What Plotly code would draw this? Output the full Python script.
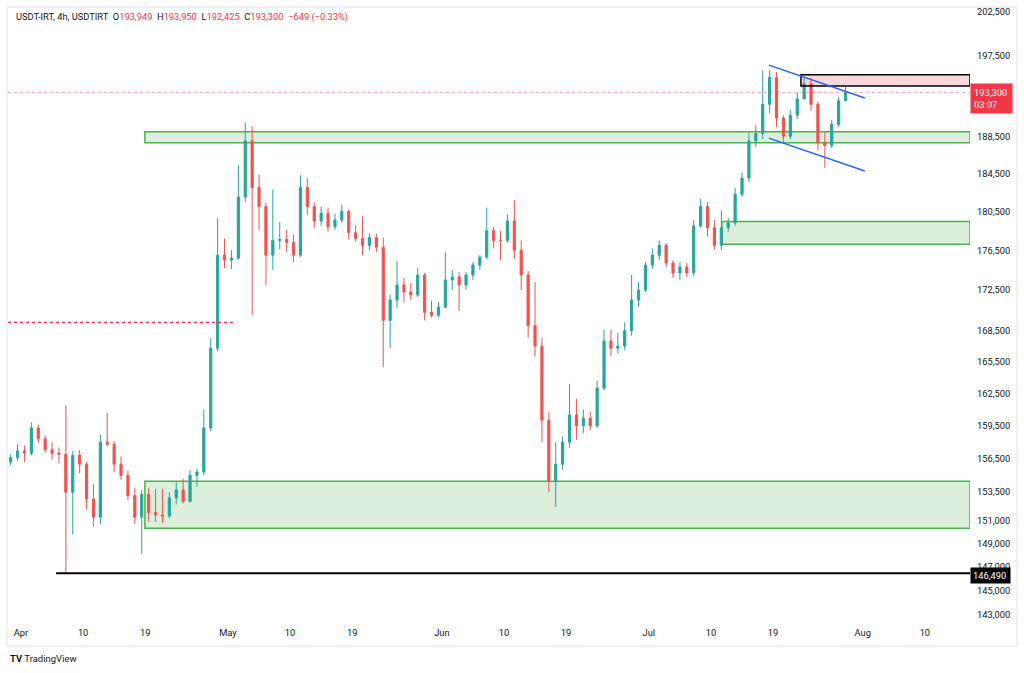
import math
import pandas as pd
import plotly.graph_objects as go

# ---------------- data (daily OHLC) ----------------
open_ = [156200, 156600,
         157200, 157000, 159300, 158300, 157300, 157000, 156900, 153500, 156800, 156000,
         152900, 151300, 158000, 157800, 156000, 155000, 153200, 151300, 153300, 151700,
         151500, 151400, 153000, 153700, 152700, 155000, 155300, 159300, 166800, 176000,
         175500, 175700, 182000, 188000, 183000, 181000, 176000, 177500, 177600, 177300,
         176000, 183000, 181000, 179500, 180300, 178900, 179600, 180500, 178300, 177700,
         177000, 177800, 176800, 169500, 171500, 173000, 172300, 172000, 174000, 170300, 170000,
         170800, 173500, 173800, 173000, 174000, 175000, 175800, 178500, 177500, 177500,
         179500, 176500, 174000, 169000, 167000, 160000, 154500, 156000, 158000, 160500,
         159500, 160200, 159500, 163000, 167500, 166800, 167000, 168500, 171500, 172500,
         175000, 176000, 177000, 175200, 174200, 174800, 174200, 179000, 181000, 178800,
         177000, 178800, 179300, 182300, 184000, 188000, 188800, 192000, 195000, 190500,
         188500, 190800, 192600, 194300, 192000, 187800, 187500, 189800, 192400]
high = [156900, 157800,
        157700, 159800, 159600, 158600, 158000, 157500, 161400, 157200, 157300, 156200,
        154200, 158700, 160700, 158100, 156700, 155400, 153900, 153700, 153900, 153800,
        153800, 153500, 154400, 154700, 155500, 155600, 161000, 167800, 179800, 177700,
        176500, 185400, 190000, 189600, 184400, 181400, 182800, 179400, 178600, 178100,
        184300, 184000, 181400, 181000, 180900, 180300, 181200, 180700, 179100, 180000,
        178200, 178200, 177800, 172000, 175400, 173700, 173200, 174700, 174200, 171400, 171300,
        176300, 174500, 174300, 174300, 175300, 176000, 180900, 178900, 178500, 180200,
        181700, 177500, 174400, 173300, 167800, 160800, 158000, 158500, 163400, 162000,
        161000, 160800, 163700, 168600, 168600, 168300, 169300, 174000, 173300, 175300,
        176700, 177500, 177200, 175500, 175300, 175200, 179600, 181800, 181500, 179600,
        180600, 179800, 183000, 184600, 188900, 189700, 195800, 195800, 195600, 190800,
        191400, 193300, 195000, 195000, 192300, 189100, 190300, 192800, 193950]
low = [155900, 156300,
       156200, 156800, 157900, 157000, 156400, 156100, 146490, 149800, 155200, 152000,
       150500, 150700, 157600, 155300, 154600, 152800, 150700, 148100, 150900, 150900,
       150800, 151200, 152400, 152500, 152600, 154000, 155000, 159000, 166500, 174700,
       174600, 175500, 181500, 170000, 178500, 173000, 174500, 176600, 176300, 175300,
       175800, 180100, 178800, 179000, 178400, 178600, 179300, 177600, 177400, 176000,
       176500, 176300, 165000, 166800, 170700, 171300, 171500, 171800, 169500, 169800, 169800,
       170700, 172500, 170400, 172500, 173500, 174500, 175600, 176700, 175500, 177300,
       175600, 172500, 167800, 166000, 158000, 153500, 152200, 155500, 157500, 158200,
       158800, 159100, 159300, 162800, 166000, 166300, 166600, 168000, 170800, 172300,
       174600, 175500, 174800, 173700, 173500, 173800, 173900, 178800, 177900, 176600,
       176500, 178400, 179000, 182000, 183600, 187300, 188200, 191000, 189500, 187800,
       188200, 190400, 192600, 191300, 187000, 185100, 187200, 189500, 192400]
close = [156600, 157200,
         157000, 159300, 158300, 157300, 157000, 156900, 153500, 156800, 156000, 152900,
         151300, 158000, 157800, 156000, 155000, 153200, 151300, 153300, 151700, 151500,
         151400, 153000, 153700, 152700, 155000, 155300, 159300, 166800, 176000, 175500,
         175700, 182000, 188000, 183000, 181000, 176000, 177500, 177600, 177300, 176000,
         183000, 181000, 179500, 180300, 178900, 179600, 180500, 178300, 177700, 177000,
         177800, 176800, 169500, 171500, 173000, 172300, 172000, 174000, 170300, 170000, 170800,
         173500, 173800, 173000, 174000, 175000, 175800, 178500, 177500, 177500, 179500,
         176500, 174000, 169000, 167000, 160000, 154500, 156000, 158000, 160500, 159500,
         160200, 159500, 163000, 167500, 166800, 167000, 168500, 171500, 172500, 175000,
         176000, 177000, 175200, 174200, 174800, 174200, 179000, 181000, 178800, 177000,
         178800, 179300, 182300, 184000, 188000, 188800, 192000, 195000, 190500, 188500,
         190800, 192600, 194300, 192000, 187800, 187500, 189800, 192400, 193300]
dates = pd.date_range("2025-03-30 12:00", periods=len(close), freq="D")

y_tick_values = [143000, 145000, 147000, 149000, 151000, 153500, 156500, 159500,
                 162500, 165500, 168500, 172500, 176500, 180500, 184500, 188500,
                 192500, 197500, 202500]
x_tick_dates = ["2025-04-01", "2025-04-10", "2025-04-19", "2025-05-01", "2025-05-10",
                "2025-05-19", "2025-06-01", "2025-06-10", "2025-06-19", "2025-07-01",
                "2025-07-10", "2025-07-19", "2025-08-01", "2025-08-10"]
x_tick_text = ["Apr", "10", "19", "May", "10", "19", "Jun", "10", "19", "Jul",
               "10", "19", "Aug", "10"]

# drawn levels / zones (start date, bottom price, top price)
green_zones = [("2025-04-18 23:00", 150330, 154470),
               ("2025-04-18 23:00", 187800, 189000),
               ("2025-07-11 14:00", 177100, 179450)]
red_zone = ("2025-07-23 01:00", 194050, 195300)
swing_low_level = 146490
swing_low_start = "2025-04-06 02:00"
old_level = 169300
old_level_end = "2025-05-02 00:00"
channel_upper = [("2025-07-18 09:40", 196400), ("2025-08-01 07:00", 192700)]
channel_lower = [("2025-07-18 09:40", 188300), ("2025-08-01 07:00", 184760)]
last_price = 193300
last_bar = {"O": "193,949", "H": "193,950", "L": "192,425", "C": "193,300",
            "chg": "\u2212649 (\u22120.33%)"}

# ---------------- layout geometry ----------------
W, H = 1024, 673
PL, PR, PT, PB = 8, 970, 7, 622
X_START, X_END = "2025-03-30 02:47", "2025-08-16 13:00"
Y_LO, Y_HI = 142424, 203096

def pxx(xp):
    return (xp - PL) / (PR - PL)

def pyy(yp):
    return (PB - yp) / (PB - PT)

DARK = "#131722"
RED = "#f23645"
FONT = "Roboto"
FS = 9.3

fig = go.Figure()
fig.add_trace(go.Candlestick(
    x=dates, open=open_, high=high, low=low, close=close,
    increasing=dict(line=dict(color="#26a69a", width=1), fillcolor="#26a69a"),
    decreasing=dict(line=dict(color="#ef5350", width=1), fillcolor="#ef5350"),
    whiskerwidth=0, showlegend=False, hoverinfo="skip"))

shapes = []
for start, lo, hi in green_zones:
    shapes.append(dict(type="rect", xref="x", yref="y", x0=start, x1=X_END, y0=lo, y1=hi,
                       fillcolor="rgba(76,175,80,0.2)", line=dict(color="#4caf50", width=1.5),
                       layer="below"))
shapes.append(dict(type="rect", xref="x", yref="y", x0=red_zone[0], x1=X_END,
                   y0=red_zone[1], y1=red_zone[2], fillcolor="rgba(242,54,69,0.2)",
                   line=dict(color="#000000", width=1.5), layer="above"))
shapes.append(dict(type="line", xref="x", yref="y", x0=swing_low_start, x1=X_END,
                   y0=swing_low_level, y1=swing_low_level, line=dict(color="#000000", width=2)))
shapes.append(dict(type="line", xref="x", yref="y", x0=X_START, x1=old_level_end,
                   y0=old_level, y1=old_level, line=dict(color=RED, width=1.5, dash="dot")))
shapes.append(dict(type="line", xref="x", yref="y", x0=X_START, x1=X_END,
                   y0=last_price, y1=last_price,
                   line=dict(color="rgba(242,54,69,0.45)", width=1, dash="dot")))
for ch in (channel_upper, channel_lower):
    shapes.append(dict(type="line", xref="x", yref="y", x0=ch[0][0], y0=ch[0][1],
                       x1=ch[1][0], y1=ch[1][1], line=dict(color="#2962ff", width=1.5)))
# panel frame
shapes.append(dict(type="rect", xref="paper", yref="paper", x0=pxx(7), x1=pxx(1017),
                   y0=pyy(646), y1=pyy(7), line=dict(color="#e0e3eb", width=1), layer="below"))

def red(s):
    return f"<span style='color:{RED}'>{s}</span>"

NB = "\u00a0"
header = (f"USDT-IRT, 4h, USDTIRT{NB}{NB}O{red(last_bar['O'])}{NB}{NB}H{red(last_bar['H'])}"
          f"{NB}{NB}L{red(last_bar['L'])}{NB}{NB}C{red(last_bar['C'])}{NB}{NB}{red(last_bar['chg'])}")

annotations = [
    dict(xref="paper", yref="paper", x=pxx(14), y=pyy(17), xanchor="left", yanchor="middle",
         text=header, showarrow=False, font=dict(family=FONT, size=FS, color=DARK)),
    dict(xref="paper", yref="paper", x=pxx(970), y=pyy(98.5), xanchor="left", yanchor="middle",
         text=f"{last_price:,}<br>03:07", showarrow=False, align="left", width=35,
         bgcolor=RED, borderpad=3, font=dict(family=FONT, size=FS, color="#ffffff")),
    dict(xref="paper", yref="paper", x=pxx(970), y=pyy(575), xanchor="left", yanchor="middle",
         text=f"{swing_low_level:,}", showarrow=False, align="left", width=35,
         bgcolor="#000000", borderpad=2, font=dict(family=FONT, size=FS, color="#ffffff")),
    dict(xref="paper", yref="paper", x=pxx(8), y=pyy(659), xanchor="left", yanchor="middle",
         text="<b>TV</b> TradingView", showarrow=False,
         font=dict(family=FONT, size=9.5, color=DARK)),
]

fig.update_layout(
    width=W, height=H, margin=dict(l=PL, r=W - PR, t=PT, b=H - PB),
    paper_bgcolor="#ffffff", plot_bgcolor="#ffffff", boxgap=0.55,
    shapes=shapes, annotations=annotations, showlegend=False,
    font=dict(family=FONT, size=FS, color=DARK),
    xaxis=dict(type="date", range=[X_START, X_END], rangeslider=dict(visible=False),
               tickvals=x_tick_dates, ticktext=x_tick_text, showgrid=False, zeroline=False,
               showline=False, ticks="", tickfont=dict(family=FONT, size=FS, color=DARK),
               ticklabelstandoff=4, fixedrange=True),
    yaxis=dict(type="log", side="right", range=[math.log10(Y_LO), math.log10(Y_HI)],
               tickvals=y_tick_values, ticktext=[f"{v:,}" for v in y_tick_values],
               showgrid=False, zeroline=False, showline=False, ticks="",
               tickfont=dict(family=FONT, size=FS, color=DARK), ticklabelstandoff=6,
               fixedrange=True),
)

fig.write_html("out.html", post_script="document.body.style.margin='0';",
               config={"displayModeBar": False})
